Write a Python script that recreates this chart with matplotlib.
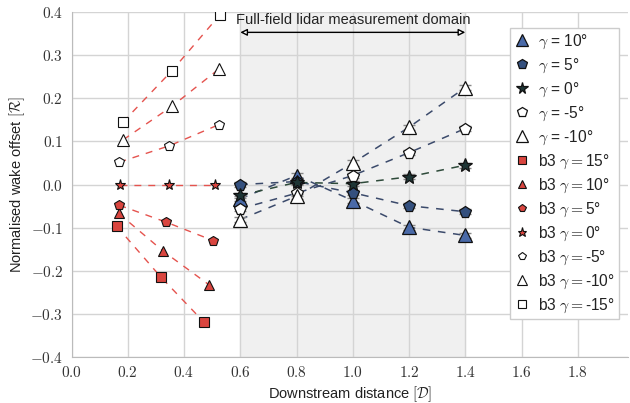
import matplotlib
matplotlib.use("Agg")
import matplotlib.pyplot as plt
from matplotlib.ticker import FuncFormatter

plt.rcParams['font.family'] = ['Liberation Sans', 'DejaVu Sans']
plt.rcParams['mathtext.fontset'] = 'cm'

# lidar measurements (full-field domain)
x_lidar = [0.6, 0.8, 1.0, 1.2, 1.4]
lidar = {
    10: [-0.033, 0.021, -0.037, -0.099, -0.118],
    5: [0.0, 0.007, -0.019, -0.049, -0.063],
    0: [-0.025, 0.005, 0.002, 0.018, 0.045],
    -5: [-0.056, -0.02, 0.021, 0.074, 0.13],
    -10: [-0.081, -0.027, 0.05, 0.133, 0.225],
}
lidar_err = [0.006, 0.006, 0.006, 0.006, 0.006]

# b3 measurements
b3_x = {
    15: [0.161, 0.317, 0.471],
    10: [0.168, 0.327, 0.488],
    5: [0.170, 0.336, 0.504],
    0: [0.173, 0.345, 0.511],
    -5: [0.170, 0.348, 0.524],
    -10: [0.184, 0.358, 0.524],
    -15: [0.183, 0.357, 0.528],
}
b3_y = {
    15: [-0.097, -0.214, -0.319],
    10: [-0.067, -0.155, -0.232],
    5: [-0.048, -0.087, -0.130],
    0: [0.0, 0.0, 0.0],
    -5: [0.052, 0.090, 0.139],
    -10: [0.104, 0.182, 0.268],
    -15: [0.145, 0.264, 0.394],
}

lidar_style = {
    10: ('^', '#4a6aa8', '#3b4a6b', 9.5),
    5: ('p', '#34507e', '#3b4a6b', 8.5),
    0: ('*', '#1e3535', '#2e4a3a', 10),
    -5: ('p', 'white', '#3b4a6b', 8.5),
    -10: ('^', 'white', '#3b4a6b', 9.5),
}
b3_style = {
    15: ('s', '#d9453f', 7),
    10: ('^', '#d9453f', 7),
    5: ('p', '#d9453f', 7),
    0: ('*', '#d9453f', 8),
    -5: ('p', 'white', 7),
    -10: ('^', 'white', 8),
    -15: ('s', 'white', 7.5),
}

fig = plt.figure(figsize=(6.3, 4.03), dpi=100)
ax = fig.add_axes([0.1135, 0.114, 0.884, 0.856])

ax.axvspan(0.6, 1.4, color='#f0f0f0', zorder=0)

for g, ys in lidar.items():
    m, fc, lc, ms = lidar_style[g]
    ax.plot(x_lidar, ys, ls=(0, (5, 5)), color=lc, lw=1.1, zorder=2)
    ax.errorbar(x_lidar, ys, yerr=lidar_err, fmt='none', ecolor='#888888',
                elinewidth=0.8, capsize=4, zorder=3)
    ax.plot(x_lidar, ys, ls='none', marker=m, ms=ms,
            mfc=fc, mec='#111111', mew=0.9, zorder=4,
            label='$\\gamma$ = %d\u00b0' % g)

for g in b3_x:
    m, fc, ms = b3_style[g]
    ax.plot(b3_x[g], b3_y[g], ls=(0, (5, 5)), color='#e5534e', lw=1.0, zorder=2)
    ax.plot(b3_x[g], b3_y[g], ls='none', marker=m, ms=ms, mfc=fc,
            mec='#111111', mew=0.8, zorder=4,
            label='b3 $\\gamma=$%d\u00b0' % g)

ax.annotate('', xy=(0.6, 0.353), xytext=(1.4, 0.353),
            arrowprops=dict(arrowstyle='<|-|>', fc='white', ec='black', lw=1.0,
                            shrinkA=0, shrinkB=0))
ax.text(1.0, 0.366, 'Full-field lidar measurement domain', ha='center', va='bottom',
        fontsize=10.5, color='#222222')

ax.set_xlim(0, 1.98)
ax.set_ylim(-0.4, 0.4)
ax.set_xticks([0.0, 0.2, 0.4, 0.6, 0.8, 1.0, 1.2, 1.4, 1.6, 1.8])
ax.set_yticks([-0.4, -0.3, -0.2, -0.1, 0.0, 0.1, 0.2, 0.3, 0.4])
ax.xaxis.set_major_formatter(FuncFormatter(lambda v, p: r'$%.1f$' % v))
ax.yaxis.set_major_formatter(FuncFormatter(lambda v, p: r'$%.1f$' % v))
ax.tick_params(length=0, labelsize=11, colors='#333333', pad=6)
ax.grid(True, color='#d4d4d4', lw=1.0, zorder=1)
ax.set_axisbelow(True)
for s in ['top', 'right']:
    ax.spines[s].set_visible(False)
for s in ['left', 'bottom']:
    ax.spines[s].set_color('#bbbbbb')

ax.set_xlabel(r'Downstream distance $[\mathcal{D}]$', fontsize=10.5, color='#222222', labelpad=3)
ax.set_ylabel(r'Normalised wake offset $[\mathcal{R}]$', fontsize=10.5, color='#222222', labelpad=2)

leg = ax.legend(loc='upper right', bbox_to_anchor=(0.997, 0.977), fontsize=11.2,
                handlelength=1.0, handletextpad=0.5, markerscale=0.85,
                borderpad=0.3, labelspacing=0.36, fancybox=False,
                framealpha=1.0, edgecolor='#cccccc')
for t in leg.get_texts():
    t.set_color('#222222')

fig.savefig('out.png', dpi=100)
